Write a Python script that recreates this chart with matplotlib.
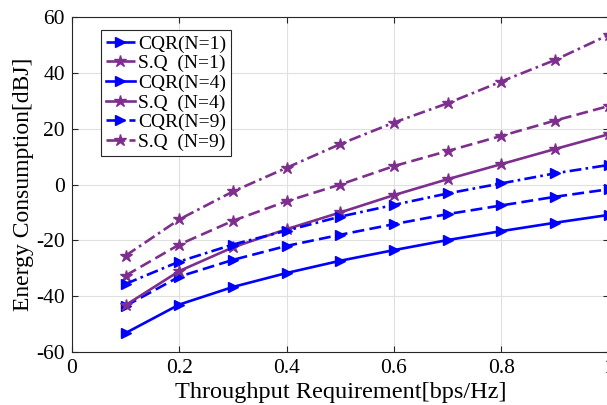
import numpy as np
import matplotlib
matplotlib.use("Agg")
import matplotlib.pyplot as plt

plt.rcParams['font.family'] = ['Liberation Serif', 'DejaVu Serif']
plt.rcParams['axes.unicode_minus'] = False

# throughput requirement [bps/Hz]
rate = [0.1, 0.2, 0.3, 0.4, 0.5, 0.6, 0.7, 0.8, 0.9, 1.0]

# energy consumption [dBJ]
cqr_n1 = [-43.5, -33.0, -27.0, -22.0, -18.0, -14.2, -10.6, -7.5, -4.4, -1.7]
sq_n1 = [-32.6, -21.5, -13.0, -6.0, 0.0, 6.6, 12.0, 17.4, 22.9, 28.1]
cqr_n4 = [-53.2, -43.0, -36.7, -31.7, -27.3, -23.5, -19.9, -16.7, -13.7, -10.9]
sq_n4 = [-43.2, -31.0, -22.5, -16.0, -10.0, -3.8, 1.9, 7.3, 12.7, 18.0]
cqr_n9 = [-35.6, -27.6, -21.5, -16.5, -11.5, -7.3, -3.2, 0.4, 4.0, 7.0]
sq_n9 = [-25.5, -12.5, -2.5, 6.0, 14.5, 22.2, 29.1, 36.9, 44.6, 53.6]

blue = '#0000FF'
purple = '#7E2F8E'
dashed = (0, (4.5, 2.0))
dashdot = (0, (4.5, 1.6, 1.0, 1.6))

fig = plt.figure(figsize=(6.07, 4.05), dpi=100)
ax = fig.add_axes([0.1186, 0.1309, 0.884, 0.827])

series = [
    (cqr_n1, blue, dashed, '>', 7.5, 'CQR(N=1)'),
    (sq_n1, purple, dashed, '*', 9, 'S.Q  (N=1)'),
    (cqr_n4, blue, '-', '>', 7.5, 'CQR(N=4)'),
    (sq_n4, purple, '-', '*', 9, 'S.Q  (N=4)'),
    (cqr_n9, blue, dashdot, '>', 7.5, 'CQR(N=9)'),
    (sq_n9, purple, dashdot, '*', 9, 'S.Q  (N=9)'),
]
for vals, col, ls, mk, ms, lab in series:
    ax.plot(rate, vals, color=col, linestyle=ls, marker=mk, markersize=ms,
            linewidth=1.9, label=lab)

ax.set_xlim(0, 1)
ax.set_ylim(-60, 60)
ax.set_xticks([0, 0.2, 0.4, 0.6, 0.8, 1.0])
ax.set_xticklabels(['0', '0.2', '0.4', '0.6', '0.8', '1'])
ax.set_yticks(np.arange(-60, 61, 20))
ax.grid(True, color='#e0e0e0', linewidth=0.8)
ax.set_axisbelow(True)
ax.tick_params(direction='in', top=True, right=True, labelsize=15.5, length=4,
               color='#262626', pad=5)
for sp in ax.spines.values():
    sp.set_color('#262626')
    sp.set_linewidth(0.8)

ax.set_xlabel('Throughput Requirement[bps/Hz]', fontsize=17.5, labelpad=3)
ax.set_ylabel('Energy Consumption[dBJ]', fontsize=17, labelpad=2)

leg = ax.legend(loc='upper left', bbox_to_anchor=(0.054, 0.961), fontsize=14,
                handlelength=1.5, handletextpad=0.15, borderpad=0.25,
                labelspacing=0.1, fancybox=False, framealpha=1,
                edgecolor='#262626', borderaxespad=0)
leg.get_frame().set_linewidth(0.8)

fig.savefig('out.png', dpi=100)
